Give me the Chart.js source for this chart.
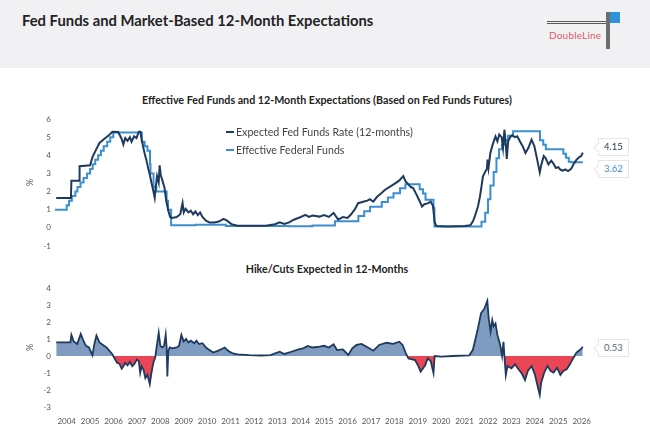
<!DOCTYPE html>
<html>
<head>
<meta charset="utf-8">
<script src="https://cdn.jsdelivr.net/npm/chart.js@4.4.1/dist/chart.umd.min.js"></script>
<style>
  body { margin: 0; width: 650px; height: 434px; background: #fff; position: relative; overflow: hidden; font-family: Lato, "Open Sans", sans-serif; }
  #head { position: absolute; left: 0; top: 0; width: 650px; height: 68px; background: #f1f1f3; }
  #title { position: absolute; left: 22px; top: 11px; font-size: 14.8px; font-weight: bold; color: #232323; white-space: nowrap; }
  .logoline { position: absolute; left: 547px; top: 21px; width: 62px; height: 1px; border-top: 1px solid #5a5a5a; border-bottom: 1px solid #5a5a5a; }
  .logobar { position: absolute; left: 606px; top: 12px; width: 4px; height: 37px; background: #6d6d6d; }
  .logosq { position: absolute; left: 610px; top: 12px; width: 10px; height: 11px; background: #2f92d8; }
  .logotxt { position: absolute; left: 549px; top: 29px; font-size: 10px; letter-spacing: 0.2px; color: #df5a69; }
  .ctitle { position: absolute; left: 0; width: 654px; text-align: center; font-size: 10.7px; font-weight: bold; color: #222; white-space: nowrap; }
  .wrap { position: absolute; left: 0; width: 650px; }
  .leg { position: absolute; left: 226px; font-size: 10.6px; color: #444; white-space: nowrap; }
  .leg i { display: inline-block; width: 8px; height: 2px; vertical-align: middle; margin-right: 2px; position: relative; top: -1px; }
  .call { position: absolute; left: 598px; width: 29px; height: 16px; line-height: 16px; border: 1px solid #e6e6e6; background: #fff; font-size: 9.5px; text-align: center; }
  .call:before { content: ""; position: absolute; left: -4px; top: 5px; width: 6px; height: 6px; background: #fff; border-left: 1px solid #e6e6e6; border-bottom: 1px solid #e6e6e6; transform: rotate(45deg); }
</style>
</head>
<body>
<div id="head"></div>
<div id="title">Fed Funds and Market-Based 12-Month Expectations</div>
<div class="logoline"></div>
<div class="logobar"></div>
<div class="logosq"></div>
<div class="logotxt">DoubleLine</div>

<div class="ctitle" style="top:93px">Effective Fed Funds and 12-Month Expectations (Based on Fed Funds Futures)</div>
<div class="wrap" style="top:110px;height:145px"><canvas id="top"></canvas></div>
<div class="leg" style="top:126px"><i style="background:#1f3a5f"></i>Expected Fed Funds Rate (12-months)</div>
<div class="leg" style="top:144px"><i style="background:#3b8fd0"></i>Effective Federal Funds</div>
<div class="call" id="cExp" style="top:138px;color:#1f3a5f"></div>
<div class="call" id="cEff" style="top:160px;color:#3b8fd0"></div>

<div class="ctitle" style="top:262px">Hike/Cuts Expected in 12-Months</div>
<div class="wrap" style="top:279px;height:155px"><canvas id="bot"></canvas></div>
<div class="call" id="cGap" style="top:339px;color:#5a6573"></div>

<script>
// Effective fed funds (step changes), fractional years
const effT = [2004.0, 2004.5, 2004.6, 2004.72, 2004.87, 2004.96, 2005.09, 2005.22, 2005.37, 2005.5, 2005.61, 2005.72, 2005.84, 2005.96,
  2006.08, 2006.23, 2006.36, 2006.49, 2007.71, 2007.83, 2007.95, 2008.06, 2008.08, 2008.21, 2008.33, 2008.77, 2008.83, 2008.96,
  2010.0, 2011.3, 2014.0, 2015.0, 2015.96, 2016.96, 2017.21, 2017.46, 2017.96, 2018.22, 2018.46, 2018.74, 2018.97,
  2019.58, 2019.72, 2019.83, 2020.17, 2020.21, 2022.22, 2022.38, 2022.5, 2022.6, 2022.74, 2022.86, 2022.97, 2023.1, 2023.22,
  2023.35, 2023.57, 2024.72, 2024.86, 2024.97, 2025.72, 2025.83, 2025.95, 2026.05, 2026.55];
const effV = [1.0, 1.25, 1.5, 1.75, 2.0, 2.25, 2.5, 2.75, 3.0, 3.25, 3.5, 3.75, 4.0, 4.25,
  4.5, 4.75, 5.0, 5.25, 4.75, 4.5, 4.25, 3.5, 3.0, 2.25, 2.0, 1.5, 1.0, 0.15,
  0.17, 0.1, 0.09, 0.13, 0.37, 0.66, 0.91, 1.16, 1.42, 1.68, 1.91, 2.18, 2.4,
  2.13, 1.9, 1.55, 1.1, 0.08, 0.33, 0.83, 1.58, 2.33, 3.08, 3.83, 4.33, 4.58, 4.83,
  5.08, 5.33, 4.83, 4.58, 4.33, 4.08, 3.87, 3.64, 3.62, 3.62];

// Expected fed funds rate in 12 months
const expT = [2004.05, 2004.68, 2004.7, 2005.03, 2005.05, 2005.5, 2005.6, 2005.75, 2005.9, 2006.1, 2006.3, 2006.45, 2006.7, 2006.85,
  2006.92, 2007.0, 2007.1, 2007.2, 2007.27, 2007.38, 2007.48, 2007.58, 2007.65, 2007.7, 2007.76, 2007.83, 2007.9, 2007.98,
  2008.05, 2008.12, 2008.19, 2008.26, 2008.3, 2008.36, 2008.43, 2008.47, 2008.52, 2008.6, 2008.68, 2008.75, 2008.83, 2008.92,
  2009.0, 2009.2, 2009.35, 2009.45, 2009.5, 2009.58, 2009.7, 2009.8, 2009.9, 2010.0, 2010.1, 2010.2, 2010.3, 2010.45, 2010.6,
  2010.8, 2011.0, 2011.2, 2011.35, 2011.55, 2011.8, 2012.5, 2013.0, 2013.4, 2013.6, 2013.8, 2014.0, 2014.2, 2014.5, 2014.7,
  2014.85, 2015.0, 2015.3, 2015.5, 2015.7, 2015.9, 2016.1, 2016.3, 2016.5, 2016.65, 2016.8, 2016.95, 2017.2, 2017.35, 2017.45,
  2017.6, 2017.75, 2017.95, 2018.1, 2018.35, 2018.55, 2018.7, 2018.88, 2018.98, 2019.1, 2019.2, 2019.3, 2019.45, 2019.55,
  2019.68, 2019.78, 2019.92, 2020.05, 2020.15, 2020.22, 2020.3, 2020.8, 2021.5, 2021.75, 2021.85, 2021.93, 2022.0, 2022.07,
  2022.15, 2022.2, 2022.28, 2022.38, 2022.45, 2022.48, 2022.52, 2022.6, 2022.7, 2022.82, 2022.9, 2022.98, 2023.08, 2023.14,
  2023.2, 2023.26, 2023.3, 2023.36, 2023.45, 2023.53, 2023.65, 2023.75, 2023.86, 2023.98, 2024.1, 2024.22, 2024.36, 2024.48,
  2024.6, 2024.71, 2024.78, 2024.88, 2024.96, 2025.08, 2025.2, 2025.28, 2025.4, 2025.5, 2025.6, 2025.7, 2025.8, 2025.92,
  2026.05, 2026.15, 2026.28, 2026.4, 2026.48, 2026.55];
const expV = [1.65, 1.65, 2.6, 2.6, 3.4, 3.45, 3.9, 4.3, 4.68, 4.9, 5.1, 5.3, 5.28, 4.9,
  4.6, 4.95, 4.8, 5.0, 4.75, 5.05, 4.95, 5.3, 5.3, 4.9, 4.5, 4.1, 3.76, 3.3,
  2.93, 2.5, 2.1, 1.66, 2.2, 2.85, 2.5, 3.45, 2.9, 2.56, 2.2, 1.5, 1.0, 0.6,
  0.55, 0.6, 0.75, 1.37, 0.85, 1.05, 0.85, 0.95, 0.75, 0.9, 0.7, 0.85, 0.6, 0.4, 0.3,
  0.3, 0.35, 0.5, 0.4, 0.2, 0.12, 0.12, 0.12, 0.2, 0.3, 0.22, 0.3, 0.45, 0.6, 0.72,
  0.6, 0.68, 0.62, 0.7, 0.6, 0.82, 0.45, 0.6, 0.55, 0.75, 1.0, 1.36, 1.45, 1.5, 1.58,
  1.45, 1.7, 1.92, 2.1, 2.3, 2.47, 2.6, 2.85, 2.55, 2.4, 2.25, 2.2, 1.82, 1.55,
  1.18, 1.3, 1.35, 1.45, 1.2, 0.3, 0.1, 0.08, 0.1, 0.15, 0.35, 0.6, 0.9, 1.18,
  1.7, 2.1, 2.83, 3.1, 3.25, 3.76, 3.3, 4.13, 4.6, 5.04, 4.77, 5.14, 5.0, 4.4,
  5.41, 4.6, 3.8, 4.77, 5.0, 5.1, 5.0, 5.05, 4.77, 4.5, 4.13, 4.4, 4.86, 4.5,
  3.76, 3.05, 3.5, 3.96, 3.85, 3.5, 3.7, 3.57, 3.3, 3.35, 3.2, 3.15, 3.22, 3.13,
  3.25, 3.5, 3.76, 3.9, 3.96, 4.15];

// Hikes / cuts expected in 12 months
const gapT = [2004.05, 2004.66, 2004.7, 2004.8, 2004.95, 2005.1, 2005.2, 2005.32, 2005.45, 2005.6, 2005.68, 2005.77, 2005.9, 2006.05,
  2006.2, 2006.3, 2006.45, 2006.55, 2006.65, 2006.75, 2006.85, 2006.92, 2007.0, 2007.1, 2007.2, 2007.3, 2007.4, 2007.5, 2007.58,
  2007.64, 2007.7, 2007.78, 2007.86, 2007.95, 2008.05, 2008.12, 2008.2, 2008.28, 2008.35, 2008.43, 2008.5, 2008.58, 2008.66,
  2008.73, 2008.77, 2008.8, 2008.84, 2008.9, 2009.0, 2009.2, 2009.3, 2009.4, 2009.5, 2009.6, 2009.7, 2009.8, 2009.95, 2010.04,
  2010.15, 2010.3, 2010.45, 2010.55, 2010.76, 2010.95, 2011.1, 2011.25, 2011.4, 2011.6, 2011.8, 2012.3, 2012.8, 2013.2, 2013.6,
  2013.8, 2014.1, 2014.4, 2014.6, 2014.8, 2015.0, 2015.3, 2015.5, 2015.7, 2015.9, 2016.05, 2016.3, 2016.53, 2016.7, 2016.88,
  2017.1, 2017.35, 2017.6, 2017.85, 2018.16, 2018.45, 2018.71, 2018.85, 2019.0, 2019.1, 2019.38, 2019.5, 2019.62, 2019.72,
  2019.82, 2019.92, 2020.05, 2020.17, 2020.22, 2020.5, 2021.0, 2021.7, 2021.85, 2022.07, 2022.2, 2022.35, 2022.47, 2022.53,
  2022.61, 2022.68, 2022.74, 2022.82, 2022.9, 2023.02, 2023.1, 2023.16, 2023.2, 2023.26, 2023.33, 2023.5, 2023.65, 2023.8,
  2023.94, 2024.08, 2024.2, 2024.36, 2024.5, 2024.64, 2024.71, 2024.77, 2024.9, 2025.04, 2025.18, 2025.3, 2025.45, 2025.59,
  2025.72, 2025.86, 2026.0, 2026.15, 2026.28, 2026.42, 2026.55];
const gapV = [0.8, 0.8, 1.24, 0.85, 0.7, 1.3, 0.95, 0.6, 0.5, 0.05, 0.7, 1.2, 0.8, 0.65,
  0.5, 0.35, 0.1, -0.15, -0.4, -0.45, -0.75, -0.6, -0.4, -0.55, -0.35, -0.6, -0.45, -0.2, -0.3,
  -1.0, -0.6, -0.8, -1.3, -1.1, -1.65, -1.0, -0.4, -0.1, 0.6, 1.37, 0.6, 0.5, 0.6,
  1.25, 0.5, -1.2, 0.3, 0.5, 0.45, 0.5, 0.6, 1.24, 0.85, 1.0, 0.8, 0.9, 0.75, 0.9,
  0.7, 0.75, 0.5, 0.4, 0.2, 0.3, 0.4, 0.5, 0.3, 0.15, 0.1, 0.05, 0.03, 0.05, 0.25,
  0.12, 0.25, 0.39, 0.45, 0.59, 0.5, 0.55, 0.6, 0.5, 0.69, 0.35, 0.39, 0.06, 0.45, 0.65,
  0.71, 0.51, 0.31, 0.65, 0.78, 0.71, 0.84, 0.65, 0.12, -0.14, -0.24, -0.53, -0.92, -0.73,
  -0.53, -0.14, -0.3, -1.0, 0.0, -0.04, 0.0, 0.04, 0.35, 1.63, 2.51, 2.8, 3.24, 2.2,
  1.43, 2.12, 1.75, 1.92, 1.24, 0.65, 0.0, 0.84, 0.0, -1.12, -0.59, -0.73, -0.49, -0.78,
  -1.02, -1.41, -0.88, -0.59, -1.08, -1.9, -2.29, -1.57, -0.98, -0.59, -0.88, -0.98, -0.69, -1.12,
  -0.88, -0.78, -0.49, -0.1, 0.2, 0.35, 0.53];

const yearLabels = [2004, 2005, 2006, 2007, 2008, 2009, 2010, 2011, 2012, 2013, 2014, 2015, 2016, 2017, 2018, 2019, 2020, 2021, 2022, 2023, 2024, 2025, 2026];

const pts = (t, v) => t.map((x, i) => ({ x: x, y: v[i] }));
const tickFont = { family: 'Lato', size: 8 };

function xScale(show) {
  return {
    type: 'linear', min: 2004.0, max: 2026.6, display: show,
    grid: { display: false, drawTicks: false }, border: { display: false },
    afterBuildTicks: s => { s.ticks = yearLabels.map(y => ({ value: y + 0.5 })); },
    afterFit: s => { s.height = show ? 27 : 0; },
    ticks: { autoSkip: false, maxRotation: 0, padding: 10, color: '#555', font: tickFont, callback: v => Math.floor(v) }
  };
}
function yScale(min, max) {
  return {
    min: min, max: max,
    grid: { display: false, drawTicks: false }, border: { display: false },
    afterFit: s => { s.width = 32; },
    title: { display: true, text: '%', color: '#555', font: { family: 'Lato', size: 9 }, padding: { top: 2, bottom: 0 } },
    ticks: { stepSize: 1, padding: 4, color: '#555', font: tickFont }
  };
}
const common = {
  responsive: true, maintainAspectRatio: false, animation: false,
  plugins: { legend: { display: false }, tooltip: { enabled: false } },
  elements: { point: { radius: 0 } }
};

new Chart(document.getElementById('top'), {
  type: 'line',
  data: {
    datasets: [
      { label: 'Expected Fed Funds Rate (12-months)', data: pts(expT, expV), borderColor: '#1f3a5f', borderWidth: 2, tension: 0 },
      { label: 'Effective Federal Funds', data: pts(effT, effV), borderColor: '#3b8fd0', borderWidth: 2, stepped: true }
    ]
  },
  options: Object.assign({}, common, {
    layout: { padding: { left: 23, right: 66, top: 9, bottom: 9 } },
    scales: { x: xScale(false), y: yScale(-1, 6) }
  })
});

new Chart(document.getElementById('bot'), {
  type: 'line',
  data: {
    datasets: [
      { label: 'Hike/Cuts Expected in 12-Months', data: pts(gapT, gapV), borderColor: '#1f3a5f', borderWidth: 1.8,
        fill: { target: 'origin', above: 'rgba(104,138,180,0.85)', below: 'rgba(232,50,66,0.9)' } }
    ]
  },
  options: Object.assign({}, common, {
    layout: { padding: { left: 23, right: 66, top: 9, bottom: 0 } },
    scales: { x: xScale(true), y: yScale(-3, 4) }
  })
});

document.getElementById('cExp').textContent = expV[expV.length - 1].toFixed(2);
document.getElementById('cEff').textContent = effV[effV.length - 1].toFixed(2);
document.getElementById('cGap').textContent = gapV[gapV.length - 1].toFixed(2);
</script>
</body>
</html>
